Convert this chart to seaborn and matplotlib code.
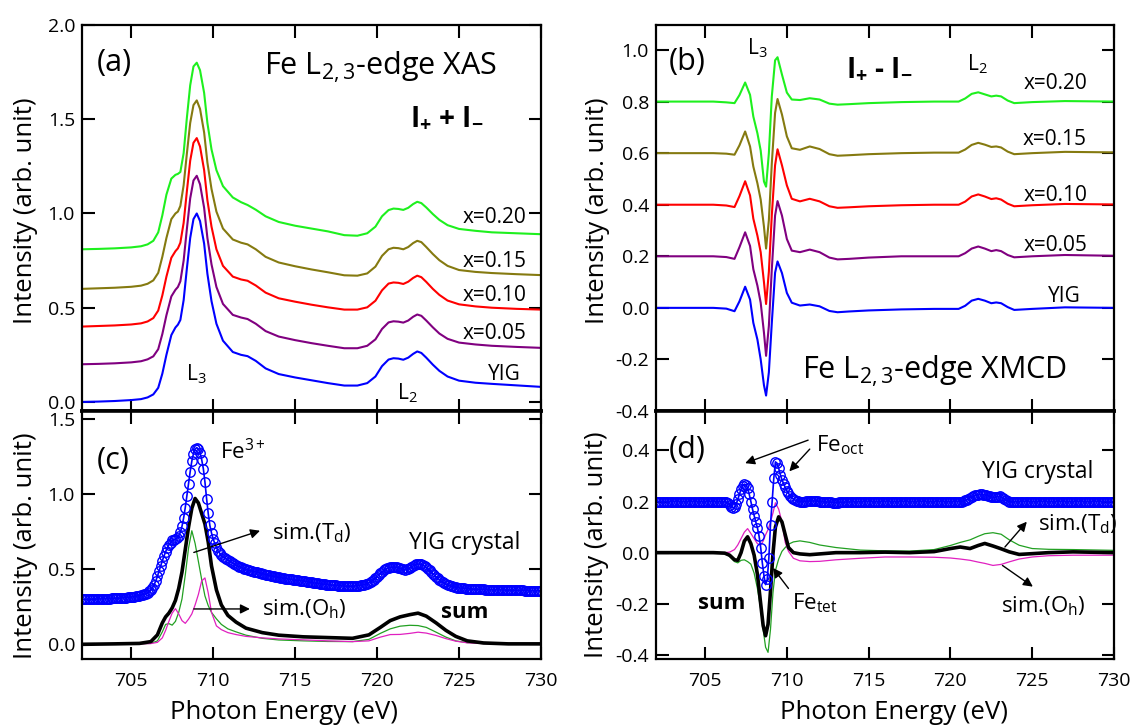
import numpy as np
import pandas as pd
import matplotlib
matplotlib.use("Agg")
import matplotlib.pyplot as plt
import seaborn as sns

# ---------------- data ----------------
# (a) Fe L2,3 XAS (I+ + I-), intensities relative to each sample's baseline
E_XAS = [702.0, 703.0, 704.0, 705.0, 705.6, 706.0, 706.35, 706.65, 706.9, 707.15,
         707.45, 707.7, 707.85, 708.0, 708.2, 708.4, 708.6, 708.8, 709.0, 709.2,
         709.45, 709.65, 709.9, 710.2, 710.6, 711.2, 711.7, 712.1, 712.6, 713.2,
         714.0, 715.0, 716.0, 717.0, 718.0, 718.8, 719.4, 719.9, 720.3, 720.7,
         721.0, 721.3, 721.6, 721.9, 722.2, 722.45, 722.7, 723.0, 723.4, 723.8,
         724.3, 725.0, 726.0, 727.0, 728.5, 730.0]
XAS_YIG = [0.0, 0.002, 0.005, 0.01, 0.015, 0.024, 0.04, 0.075, 0.15, 0.25,
           0.355, 0.395, 0.41, 0.435, 0.54, 0.71, 0.87, 0.97, 1.0, 0.96,
           0.84, 0.68, 0.535, 0.415, 0.325, 0.265, 0.25, 0.243, 0.218, 0.178,
           0.148, 0.13, 0.115, 0.1, 0.087, 0.087, 0.1, 0.135, 0.19, 0.225,
           0.232, 0.23, 0.224, 0.235, 0.255, 0.268, 0.26, 0.235, 0.198, 0.165,
           0.135, 0.113, 0.102, 0.096, 0.088, 0.08]
XAS_X005 = [0.0, 0.002, 0.005, 0.01, 0.016, 0.026, 0.042, 0.08, 0.16, 0.26,
            0.36, 0.395, 0.41, 0.44, 0.55, 0.72, 0.88, 0.975, 1.0, 0.955,
            0.83, 0.67, 0.53, 0.41, 0.32, 0.262, 0.248, 0.24, 0.215, 0.176,
            0.147, 0.128, 0.112, 0.098, 0.085, 0.085, 0.098, 0.132, 0.187, 0.222,
            0.228, 0.226, 0.221, 0.232, 0.252, 0.264, 0.257, 0.232, 0.196, 0.163,
            0.135, 0.115, 0.105, 0.098, 0.092, 0.087]
XAS_X010 = [0.0, 0.003, 0.006, 0.011, 0.017, 0.027, 0.045, 0.085, 0.165, 0.265,
            0.365, 0.4, 0.415, 0.445, 0.55, 0.72, 0.88, 0.975, 1.0, 0.955,
            0.83, 0.67, 0.53, 0.41, 0.322, 0.265, 0.25, 0.243, 0.218, 0.18,
            0.15, 0.132, 0.116, 0.102, 0.09, 0.09, 0.102, 0.137, 0.192, 0.228,
            0.234, 0.232, 0.226, 0.238, 0.258, 0.27, 0.262, 0.237, 0.2, 0.168,
            0.138, 0.118, 0.107, 0.1, 0.094, 0.09]
XAS_X015 = [0.0, 0.003, 0.006, 0.011, 0.017, 0.027, 0.045, 0.085, 0.17, 0.27,
            0.37, 0.4, 0.41, 0.44, 0.55, 0.72, 0.88, 0.975, 1.0, 0.955,
            0.83, 0.67, 0.53, 0.41, 0.32, 0.262, 0.245, 0.236, 0.21, 0.17,
            0.14, 0.12, 0.103, 0.088, 0.072, 0.07, 0.082, 0.118, 0.175, 0.21,
            0.218, 0.216, 0.21, 0.222, 0.243, 0.255, 0.248, 0.222, 0.185, 0.152,
            0.122, 0.1, 0.09, 0.084, 0.078, 0.073]
XAS_X020 = [0.01, 0.012, 0.015, 0.02, 0.026, 0.036, 0.055, 0.1, 0.19, 0.3,
            0.385, 0.405, 0.41, 0.42, 0.52, 0.71, 0.88, 0.98, 1.0, 0.96,
            0.84, 0.68, 0.54, 0.43, 0.345, 0.285, 0.26, 0.245, 0.22, 0.185,
            0.155, 0.135, 0.12, 0.105, 0.085, 0.082, 0.095, 0.13, 0.185, 0.218,
            0.226, 0.224, 0.219, 0.23, 0.25, 0.262, 0.255, 0.232, 0.197, 0.166,
            0.138, 0.118, 0.108, 0.1, 0.095, 0.09]

# (b) Fe L2,3 XMCD (I+ - I-), relative to each sample's baseline
E_XMCD = [702.0, 704.0, 705.5, 706.3, 706.8, 707.1, 707.45, 707.75, 707.95, 708.2,
          708.4, 708.6, 708.73, 708.9, 709.08, 709.28, 709.43, 709.7, 710.0, 710.3,
          710.8, 711.4, 712.0, 712.6, 713.1, 713.8, 715.0, 717.0, 719.0, 720.5,
          720.9, 721.3, 721.7, 722.1, 722.5, 722.8, 723.1, 723.5, 723.9, 725.0,
          727.0, 730.0]
XMCD_YIG = [0.0, 0.0, 0.0, -0.003, -0.013, 0.025, 0.082, 0.032, -0.058, -0.123,
            -0.2, -0.3, -0.34, -0.25, -0.058, 0.136, 0.18, 0.135, 0.058, 0.02,
            0.009, 0.013, 0.006, -0.012, -0.017, -0.014, -0.01, -0.006, -0.004, -0.004,
            0.008, 0.028, 0.035, 0.028, 0.018, 0.021, 0.018, 0.003, -0.008, -0.004,
            0.002, 0.0]
XMCD_X005 = [0.0, 0.0, 0.0, -0.003, -0.01, 0.035, 0.093, 0.04, -0.05, -0.114,
             -0.18, -0.296, -0.386, -0.27, -0.05, 0.158, 0.214, 0.158, 0.067, 0.022,
             0.016, 0.026, 0.016, -0.005, -0.012, -0.01, -0.005, 0.0, 0.0, 0.0,
             0.012, 0.03, 0.038, 0.03, 0.02, 0.024, 0.02, 0.005, -0.004, 0.0,
             0.005, 0.002]
XMCD_X010 = [0.0, 0.0, 0.0, -0.003, -0.009, 0.033, 0.091, 0.036, -0.054, -0.12,
             -0.184, -0.3, -0.385, -0.26, -0.04, 0.153, 0.215, 0.153, 0.075, 0.023,
             0.013, 0.023, 0.013, -0.006, -0.012, -0.01, -0.006, -0.002, 0.0, 0.0,
             0.012, 0.032, 0.04, 0.032, 0.022, 0.025, 0.02, 0.004, -0.006, -0.002,
             0.003, 0.001]
XMCD_X015 = [0.0, 0.0, 0.0, -0.002, -0.006, 0.03, 0.084, 0.026, -0.052, -0.117,
             -0.18, -0.285, -0.37, -0.26, -0.04, 0.156, 0.21, 0.15, 0.065, 0.019,
             0.013, 0.026, 0.016, -0.004, -0.01, -0.008, -0.004, 0.0, 0.002, 0.002,
             0.014, 0.032, 0.04, 0.033, 0.024, 0.026, 0.022, 0.006, -0.004, 0.0,
             0.005, 0.003]
XMCD_X020 = [0.0, 0.0, 0.0, -0.003, -0.006, 0.025, 0.074, 0.026, -0.058, -0.123,
             -0.19, -0.31, -0.33, -0.2, 0.02, 0.16, 0.172, 0.105, 0.035, 0.008,
             0.006, 0.013, 0.008, -0.008, -0.012, -0.01, -0.006, -0.002, 0.0, 0.0,
             0.012, 0.03, 0.036, 0.028, 0.02, 0.023, 0.02, 0.004, -0.006, -0.002,
             0.002, 0.0]

SAMPLES = ["YIG", "x=0.05", "x=0.10", "x=0.15", "x=0.20"]
OFFSETS = [0.0, 0.2, 0.4, 0.6, 0.8]
COLORS = ["#0000FF", "#800080", "#FF0000", "#857A10", "#1EF01E"]

# YIG crystal, measured points: 702.0 ... 730.0 eV in 0.1 eV steps
E_PTS = (702.0, 730.0, 281)

CRYSTAL_XAS = [
    0.297, 0.297, 0.297, 0.297, 0.298, 0.298, 0.298, 0.298, 0.299, 0.299,
    0.300, 0.300, 0.300, 0.300, 0.301, 0.301, 0.302, 0.302, 0.303, 0.303,
    0.304, 0.304, 0.305, 0.305, 0.306, 0.307, 0.308, 0.309, 0.310, 0.311,
    0.313, 0.314, 0.316, 0.318, 0.320, 0.322, 0.325, 0.328, 0.332, 0.336,
    0.34, 0.35, 0.36, 0.375, 0.395, 0.42, 0.45, 0.485, 0.52, 0.555,
    0.585, 0.615, 0.64, 0.66, 0.675, 0.69, 0.695, 0.70, 0.705, 0.72,
    0.745, 0.785, 0.84, 0.91, 0.99, 1.07, 1.15, 1.22, 1.27, 1.30,
    1.31, 1.30, 1.275, 1.23, 1.17, 1.08, 0.97, 0.87, 0.79, 0.74,
    0.70, 0.67, 0.645, 0.62, 0.605, 0.59, 0.58, 0.573, 0.567, 0.56,
    0.553, 0.547, 0.54, 0.532, 0.525, 0.52, 0.515, 0.51, 0.505, 0.501,
    0.497, 0.493, 0.49, 0.487, 0.485, 0.482, 0.48, 0.477, 0.474, 0.471,
    0.468, 0.465, 0.462, 0.46, 0.457, 0.454, 0.452, 0.45, 0.448, 0.446,
    0.444, 0.442, 0.44, 0.438, 0.436, 0.434, 0.433, 0.431, 0.43, 0.428,
    0.427, 0.425, 0.424, 0.422, 0.42, 0.418, 0.417, 0.415, 0.413, 0.411,
    0.41, 0.408, 0.406, 0.404, 0.403, 0.401, 0.4, 0.398, 0.397, 0.396,
    0.395, 0.394, 0.393, 0.392, 0.391, 0.39, 0.389, 0.388, 0.387, 0.386,
    0.386, 0.385, 0.385, 0.385, 0.385, 0.385, 0.386, 0.387, 0.388, 0.389,
    0.39, 0.392, 0.395, 0.398, 0.402, 0.407, 0.412, 0.419, 0.428, 0.437,
    0.448, 0.459, 0.47, 0.48, 0.49, 0.497, 0.503, 0.507, 0.51, 0.511,
    0.512, 0.511, 0.51, 0.507, 0.503, 0.5, 0.497, 0.496, 0.497, 0.5,
    0.505, 0.512, 0.52, 0.527, 0.532, 0.533, 0.533, 0.53, 0.525, 0.518,
    0.51, 0.5, 0.49, 0.479, 0.468, 0.457, 0.447, 0.437, 0.428, 0.42,
    0.412, 0.406, 0.4, 0.395, 0.39, 0.386, 0.383, 0.38, 0.378, 0.376,
    0.374, 0.372, 0.371, 0.37, 0.369, 0.368, 0.367, 0.366, 0.366, 0.365,
    0.365, 0.364, 0.364, 0.363, 0.363, 0.363, 0.362, 0.362, 0.362, 0.362,
    0.361, 0.361, 0.361, 0.361, 0.36, 0.36, 0.36, 0.36, 0.359, 0.359,
    0.359, 0.359, 0.358, 0.358, 0.358, 0.358, 0.357, 0.357, 0.357, 0.357,
    0.356, 0.356, 0.356, 0.356, 0.355, 0.355, 0.355, 0.355, 0.355, 0.355,
    0.354]

CRYSTAL_XMCD = [
    0.2, 0.2, 0.2, 0.2, 0.2, 0.2, 0.2, 0.2, 0.2, 0.2,
    0.2, 0.2, 0.2, 0.2, 0.2, 0.2, 0.2, 0.2, 0.2, 0.2,
    0.2, 0.2, 0.2, 0.2, 0.2, 0.2, 0.2, 0.2, 0.2, 0.2,
    0.2, 0.2, 0.2, 0.2, 0.2, 0.2, 0.2, 0.2, 0.2, 0.2,
    0.2, 0.2, 0.199, 0.197, 0.193, 0.187, 0.18, 0.175, 0.178, 0.19,
    0.208, 0.228, 0.248, 0.262, 0.268, 0.265, 0.252, 0.228, 0.2, 0.17,
    0.145, 0.12, 0.097, 0.065, 0.02, -0.04, -0.09, -0.125, -0.105, -0.02,
    0.11, 0.2, 0.29, 0.355, 0.35, 0.33, 0.305, 0.285, 0.27, 0.255,
    0.242, 0.232, 0.223, 0.215, 0.21, 0.206, 0.203, 0.201, 0.2, 0.2,
    0.2, 0.2, 0.201, 0.201, 0.202, 0.202, 0.202, 0.202, 0.201, 0.201,
    0.2, 0.2, 0.199, 0.199, 0.198, 0.198, 0.197, 0.197, 0.196, 0.196,
    0.196, 0.196, 0.197, 0.197, 0.197, 0.197, 0.198, 0.198, 0.198, 0.198,
    0.199, 0.199, 0.199, 0.199, 0.2, 0.2, 0.2, 0.2, 0.2, 0.2,
    0.2, 0.2, 0.2, 0.2, 0.2, 0.2, 0.2, 0.2, 0.2, 0.2,
    0.2, 0.2, 0.2, 0.2, 0.2, 0.2, 0.2, 0.2, 0.2, 0.2,
    0.2, 0.2, 0.2, 0.2, 0.2, 0.2, 0.2, 0.2, 0.2, 0.2,
    0.2, 0.2, 0.2, 0.2, 0.2, 0.2, 0.2, 0.2, 0.2, 0.2,
    0.2, 0.2, 0.2, 0.2, 0.2, 0.2, 0.2, 0.2, 0.2, 0.2,
    0.2, 0.2, 0.2, 0.2, 0.2, 0.2, 0.2, 0.2, 0.202, 0.204,
    0.206, 0.21, 0.214, 0.218, 0.221, 0.224, 0.226, 0.227, 0.228, 0.228,
    0.227, 0.226, 0.224, 0.222, 0.22, 0.218, 0.217, 0.217, 0.218, 0.219,
    0.22, 0.218, 0.215, 0.21, 0.206, 0.203, 0.2, 0.199, 0.198, 0.199,
    0.2, 0.2, 0.2, 0.2, 0.2, 0.2, 0.2, 0.2, 0.2, 0.2,
    0.2, 0.2, 0.2, 0.2, 0.2, 0.2, 0.2, 0.2, 0.2, 0.2,
    0.2, 0.2, 0.2, 0.2, 0.2, 0.2, 0.2, 0.2, 0.2, 0.2,
    0.2, 0.2, 0.2, 0.2, 0.2, 0.2, 0.2, 0.2, 0.2, 0.2,
    0.2, 0.2, 0.2, 0.2, 0.2, 0.2, 0.2, 0.2, 0.2, 0.2,
    0.2, 0.2, 0.2, 0.2, 0.2, 0.2, 0.2, 0.2, 0.2, 0.2,
    0.2]

# (c) simulated XAS
E_SIM_XAS = [702.0, 704.0, 705.5, 706.2, 706.6, 706.9, 707.1, 707.3, 707.5, 707.7,
             707.9, 708.1, 708.3, 708.5, 708.7, 708.9, 709.1, 709.3, 709.5, 709.7,
             709.9, 710.2, 710.5, 710.9, 711.4, 712.0, 713.0, 714.0, 715.5, 717.0,
             718.5, 719.5, 720.2, 720.8, 721.4, 722.0, 722.5, 723.0, 723.6, 724.2,
             724.8, 725.5, 726.5, 728.0, 730.0]
XAS_SUM = [-0.003, 0.0, 0.003, 0.015, 0.06, 0.14, 0.18, 0.205, 0.24, 0.29,
           0.37, 0.48, 0.63, 0.78, 0.905, 0.97, 0.94, 0.87, 0.80, 0.68,
           0.52, 0.36, 0.26, 0.19, 0.145, 0.105, 0.075, 0.058, 0.047, 0.042,
           0.037, 0.06, 0.11, 0.155, 0.18, 0.195, 0.205, 0.185, 0.14, 0.09,
           0.05, 0.02, 0.006, 0.0, 0.0]
XAS_TD = [0.0, 0.0, 0.0, 0.003, 0.02, 0.08, 0.13, 0.135, 0.125, 0.15,
          0.21, 0.30, 0.46, 0.64, 0.755, 0.67, 0.55, 0.43, 0.32, 0.255,
          0.21, 0.167, 0.13, 0.1, 0.08, 0.058, 0.037, 0.026, 0.02, 0.016,
          0.015, 0.03, 0.07, 0.1, 0.118, 0.124, 0.122, 0.11, 0.078, 0.045,
          0.02, 0.008, 0.002, 0.0, 0.0]
XAS_OH = [0.0, 0.0, 0.0, 0.002, 0.01, 0.04, 0.09, 0.15, 0.205, 0.235,
          0.2, 0.155, 0.137, 0.165, 0.2, 0.26, 0.33, 0.42, 0.44, 0.34,
          0.21, 0.12, 0.095, 0.075, 0.062, 0.05, 0.04, 0.033, 0.027, 0.02,
          0.015, 0.02, 0.045, 0.062, 0.063, 0.07, 0.078, 0.072, 0.056, 0.035,
          0.018, 0.007, 0.002, 0.0, 0.0]

# (d) simulated XMCD
E_SIM_XMCD = [702.0, 704.0, 705.5, 706.2, 706.5, 706.8, 707.0, 707.2, 707.4, 707.6,
              707.8, 708.0, 708.2, 708.4, 708.55, 708.7, 708.85, 709.0, 709.15, 709.3,
              709.5, 709.7, 709.9, 710.1, 710.4, 710.8, 711.4, 712.0, 713.0, 714.5,
              716.0, 717.5, 719.0, 720.0, 720.6, 721.2, 721.7, 722.1, 722.6, 723.1,
              723.6, 724.2, 725.0, 726.0, 727.5, 730.0]
XMCD_SUM = [0.0, 0.0, 0.0, -0.002, -0.01, -0.028, -0.03, 0.0, 0.045, 0.062,
            0.035, -0.01, -0.085, -0.2, -0.285, -0.325, -0.28, -0.15, -0.005, 0.1,
            0.14, 0.12, 0.07, 0.02, 0.0, -0.005, -0.008, -0.005, 0.0, 0.0,
            0.002, 0.0, 0.004, 0.016, 0.022, 0.016, 0.028, 0.036, 0.026, 0.015,
            0.003, -0.007, -0.004, 0.0, 0.003, 0.0]
XMCD_TD = [0.0, 0.0, 0.0, -0.003, -0.015, -0.035, -0.04, -0.03, -0.028, -0.035,
           -0.045, -0.08, -0.14, -0.22, -0.3, -0.37, -0.39, -0.3, -0.157, -0.07,
           -0.025, 0.005, 0.02, 0.033, 0.042, 0.046, 0.04, 0.03, 0.02, 0.01,
           0.007, 0.006, 0.012, 0.028, 0.04, 0.05, 0.064, 0.074, 0.078, 0.072,
           0.05, 0.029, 0.016, 0.013, 0.012, 0.009]
XMCD_OH = [0.0, 0.0, 0.0, 0.0, 0.002, 0.012, 0.03, 0.055, 0.08, 0.094,
           0.075, 0.055, 0.035, 0.03, 0.045, 0.07, 0.09, 0.12, 0.155, 0.195,
           0.17, 0.12, 0.04, 0.005, -0.022, -0.032, -0.035, -0.034, -0.028, -0.022,
           -0.017, -0.017, -0.018, -0.021, -0.025, -0.03, -0.037, -0.042, -0.05, -0.046,
           -0.036, -0.025, -0.017, -0.012, -0.01, -0.01]

# ---------------- style ----------------
sns.set_theme(style="ticks")
plt.rcParams.update({
    "font.family": ["Open Sans", "DejaVu Sans"],
    "mathtext.fontset": "custom",
    "mathtext.rm": "Open Sans",
    "mathtext.it": "Open Sans:italic",
    "mathtext.bf": "Open Sans:bold",
    "axes.unicode_minus": False,
    "text.color": "black",
    "axes.labelcolor": "black",
    "axes.edgecolor": "black",
    "xtick.color": "black",
    "ytick.color": "black",
})

GREEN_SIM = "#22A022"
MAGENTA_SIM = "#E020C0"
TICK_FS = 14
LABEL_FS = 18.5


def style_axes(ax, ylim, yticks, fmt, xlabels, bottom_lw=1.6, top_lw=1.6):
    ax.set_xlim(702, 730)
    ax.set_ylim(*ylim)
    ax.set_xticks([705, 710, 715, 720, 725, 730])
    ax.set_yticks(yticks)
    ax.set_yticklabels([fmt % v for v in yticks])
    ax.tick_params(axis="both", which="major", direction="in", length=9,
                   width=1.5, top=True, right=True, labelsize=TICK_FS, pad=5)
    ax.tick_params(axis="x", pad=9)
    if not xlabels:
        ax.tick_params(axis="x", labelbottom=False)
    for side in ["left", "right"]:
        ax.spines[side].set_linewidth(1.6)
    ax.spines["bottom"].set_linewidth(bottom_lw)
    ax.spines["top"].set_linewidth(top_lw)
    ax.set_xlabel("")
    ax.set_ylabel("")


def line(ax, x, y, color, lw, **kw):
    df = pd.DataFrame({"E": x, "I": y})
    sns.lineplot(data=df, x="E", y="I", ax=ax, color=color, lw=lw,
                 estimator=None, sort=False, **kw)


def points(ax, y):
    line(ax, np.linspace(*E_PTS), y, "#0000FF", 1.2, marker="o",
         markersize=6.8, markerfacecolor="none", markeredgecolor="#0000FF",
         markeredgewidth=1.0)


def arrow(ax, tail, head):
    ax.annotate("", xy=head, xytext=tail,
                arrowprops=dict(arrowstyle="-|>", color="black", lw=1.0,
                                mutation_scale=14, shrinkA=0, shrinkB=0))


W, H = 1131, 728
fig = plt.figure(figsize=(W / 100, H / 100), dpi=100)


def axes_px(left, top, right, bottom):
    return fig.add_axes([left / W, 1 - bottom / H, (right - left) / W, (bottom - top) / H])


ax_a = axes_px(82, 25, 541, 411)
ax_c = axes_px(82, 411, 541, 659)
ax_b = axes_px(656, 25, 1114, 411)
ax_d = axes_px(656, 411, 1114, 659)

# ---------------- (a) XAS ----------------
xas_sets = [XAS_YIG, XAS_X005, XAS_X010, XAS_X015, XAS_X020]
for vals, off, col in zip(xas_sets, OFFSETS, COLORS):
    line(ax_a, E_XAS, np.asarray(vals) + off, col, 1.5)
style_axes(ax_a, (-0.048, 2.0), [0.0, 0.5, 1.0, 1.5, 2.0], "%.1f", False, bottom_lw=2.6)

ax_a.text(702.9, 1.80, "(a)", fontsize=22, va="center", ha="left")
ax_a.text(713.1, 1.735, "Fe L$_{2,3}$-edge XAS", fontsize=22, va="baseline", ha="left")
ax_a.text(722.0, 1.47, r"$\mathbf{I_{+}}$ + $\mathbf{I_{-}}$", fontsize=20,
          fontweight="bold", va="baseline", ha="left")
for lab, yb in zip(["x=0.20", "x=0.15", "x=0.10", "x=0.05"], [0.948, 0.715, 0.538, 0.335]):
    ax_a.text(729.1, yb, lab, fontsize=15, va="baseline", ha="right")
ax_a.text(728.75, 0.115, "YIG", fontsize=15, va="baseline", ha="right")
ax_a.text(708.35, 0.115, "L$_3$", fontsize=15, va="baseline", ha="left")
ax_a.text(721.2, 0.012, "L$_2$", fontsize=15, va="baseline", ha="left")

# ---------------- (b) XMCD ----------------
xmcd_sets = [XMCD_YIG, XMCD_X005, XMCD_X010, XMCD_X015, XMCD_X020]
for vals, off, col in zip(xmcd_sets, OFFSETS, COLORS):
    line(ax_b, E_XMCD, np.asarray(vals) + off, col, 1.5)
style_axes(ax_b, (-0.4, 1.097), [-0.4, -0.2, 0.0, 0.2, 0.4, 0.6, 0.8, 1.0], "%.1f",
           False, bottom_lw=2.6)

ax_b.text(702.75, 0.955, "(b)", fontsize=22, va="center", ha="left")
ax_b.text(707.55, 0.983, "L$_3$", fontsize=15, va="baseline", ha="left")
ax_b.text(713.6, 0.90, r"$\mathbf{I_{+}}$ - $\mathbf{I_{-}}$", fontsize=20,
          fontweight="bold", va="baseline", ha="left")
ax_b.text(721.0, 0.92, "L$_2$", fontsize=15, va="baseline", ha="left")
for lab, yb in zip(["x=0.20", "x=0.15", "x=0.10", "x=0.05"], [0.848, 0.632, 0.415, 0.222]):
    ax_b.text(728.35, yb, lab, fontsize=15, va="baseline", ha="right")
ax_b.text(727.95, 0.022, "YIG", fontsize=15, va="baseline", ha="right")
ax_b.text(710.95, -0.275, "Fe L$_{2,3}$-edge XMCD", fontsize=22, va="baseline", ha="left")

# ---------------- (c) simulated XAS ----------------
line(ax_c, E_SIM_XAS, XAS_TD, GREEN_SIM, 0.9)
line(ax_c, E_SIM_XAS, XAS_OH, MAGENTA_SIM, 0.9)
line(ax_c, E_SIM_XAS, XAS_SUM, "black", 2.6)
points(ax_c, CRYSTAL_XAS)
style_axes(ax_c, (-0.101, 1.554), [0.0, 0.5, 1.0, 1.5], "%.1f", True, top_lw=2.6)

ax_c.text(702.9, 1.22, "(c)", fontsize=22, va="center", ha="left")
ax_c.text(710.4, 1.23, "Fe$^{3+}$", fontsize=16, va="baseline", ha="left")
ax_c.text(713.6, 0.70, r"sim.(T$_\mathrm{d}$)", fontsize=16, va="baseline", ha="left")
ax_c.text(713.0, 0.19, r"sim.(O$_\mathrm{h}$)", fontsize=16, va="baseline", ha="left")
ax_c.text(721.95, 0.63, "YIG crystal", fontsize=16.5, va="baseline", ha="left")
ax_c.text(723.9, 0.17, "sum", fontsize=16, fontweight="bold", va="baseline", ha="left")
arrow(ax_c, (708.82, 0.61), (712.86, 0.755))
arrow(ax_c, (708.82, 0.233), (712.24, 0.233))

# ---------------- (d) simulated XMCD ----------------
line(ax_d, E_SIM_XMCD, XMCD_TD, GREEN_SIM, 0.9)
line(ax_d, E_SIM_XMCD, XMCD_OH, MAGENTA_SIM, 0.9)
line(ax_d, E_SIM_XMCD, XMCD_SUM, "black", 2.6)
points(ax_d, CRYSTAL_XMCD)
style_axes(ax_d, (-0.416, 0.554), [-0.4, -0.2, 0.0, 0.2, 0.4], "%.1f", True, top_lw=2.6)

ax_d.text(702.75, 0.40, "(d)", fontsize=22, va="center", ha="left")
ax_d.text(711.8, 0.397, r"Fe$_\mathrm{oct}$", fontsize=16, va="baseline", ha="left")
arrow(ax_d, (711.3, 0.44), (707.45, 0.35))
arrow(ax_d, (711.4, 0.405), (710.15, 0.318))
ax_d.text(721.9, 0.292, "YIG crystal", fontsize=16.5, va="baseline", ha="left")
ax_d.text(725.35, 0.088, r"sim.(T$_\mathrm{d}$)", fontsize=16, va="baseline", ha="left")
arrow(ax_d, (723.33, 0.022), (724.67, 0.121))
ax_d.text(723.1, -0.234, r"sim.(O$_\mathrm{h}$)", fontsize=16, va="baseline", ha="left")
arrow(ax_d, (723.18, -0.05), (725.04, -0.133))
ax_d.text(704.56, -0.221, "sum", fontsize=16, fontweight="bold", va="baseline", ha="left")
ax_d.text(710.3, -0.221, r"Fe$_\mathrm{tet}$", fontsize=16, va="baseline", ha="left")
arrow(ax_d, (710.1, -0.14), (709.15, -0.06))

# ---------------- axis labels ----------------
for ax, xc, yc in [(ax_a, -0.124, 0.52), (ax_c, -0.124, 0.455),
                   (ax_b, -0.127, 0.52), (ax_d, -0.131, 0.46)]:
    ax.set_ylabel("Intensity (arb. unit)", fontsize=LABEL_FS, va="center")
    ax.yaxis.set_label_coords(xc, yc)
for ax, xc in [(ax_c, 0.44), (ax_d, 0.52)]:
    ax.set_xlabel("Photon Energy (eV)", fontsize=LABEL_FS, va="center")
    ax.xaxis.set_label_coords(xc, -0.214)

fig.savefig("out.png", dpi=100)
